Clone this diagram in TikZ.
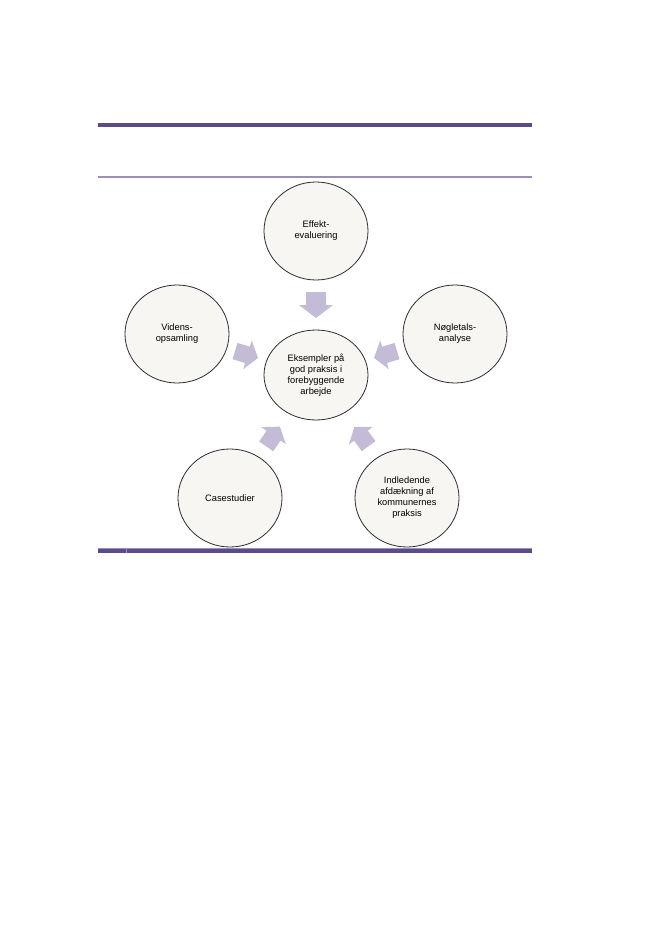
\documentclass[tikz,border=0pt]{standalone}
\usepackage{fontspec}
\setmainfont{Liberation Sans}
\usetikzlibrary{shapes.geometric}
\definecolor{darkpurple}{RGB}{91,74,140}
\definecolor{thinpurple}{RGB}{158,143,186}
\definecolor{arrowpurple}{RGB}{196,187,214}
\definecolor{circlefill}{RGB}{247,246,243}
\definecolor{circleline}{RGB}{45,45,45}
\begin{document}
\begin{tikzpicture}[x=1pt,y=-1pt,
  bubble/.style={ellipse, draw=circleline, line width=0.8pt, fill=circlefill,
    inner sep=0pt, align=center, font=\fontsize{9.3}{11}\selectfont,
    minimum width=104pt, minimum height=98pt},
  hub/.style={bubble, minimum height=90pt},
  thickrule/.style={draw=darkpurple, line width=4.5pt},
  thinrule/.style={draw=thinpurple, line width=2pt},
  bigarrow/.pic={\fill[arrowpurple] (-13,-10) -- (0,-10) -- (0,-17) -- (13,0) -- (0,17) -- (0,10) -- (-13,10) -- cycle;},
  smallarrow/.pic={\fill[arrowpurple] (-12,-8.5) -- (1,-8.5) -- (1,-15) -- (12,0) -- (1,15) -- (1,8.5) -- (-12,8.5) -- cycle;}
]
\useasboundingbox (0,0) rectangle (661,933);
\fill[white] (0,0) rectangle (661,933);

% rules
\coordinate (r1a) at (98,125);   \coordinate (r1b) at (531.5,125);
\coordinate (r2a) at (98,177);   \coordinate (r2b) at (531.5,177);
\coordinate (r3a) at (98,550.7); \coordinate (r3b) at (531.5,550.7);
\coordinate (r4a) at (98,548.8); \coordinate (r4b) at (531.5,548.8);
\coordinate (t1) at (126,548.5); \coordinate (t2) at (126,552.8);
\draw[thickrule] (r1a) -- (r1b);
\draw[thinrule] (r2a) -- (r2b);
\draw[thickrule, line width=3.8pt] (r3a) -- (r3b);
\draw[draw=thinpurple, line width=0.9pt] (r4a) -- (r4b);
\draw[draw=thinpurple, line width=0.8pt] (t1) -- (t2);

% circles
\node[bubble] (top) at (316,231) {Effekt-\\evaluering};
\node[bubble] (left) at (177,334) {Videns-\\opsamling};
\node[bubble] (right) at (455,334) {Nøgletals-\\analyse};
\node[bubble] (bl) at (230,498) {Casestudier};
\node[bubble] (br) at (407,498) {Indledende\\afdækning af\\kommunernes\\praksis};
\node[hub] (hub) at (316,375) {Eksempler på\\god praksis i\\forebyggende\\arbejde};

% converging arrows
\path (top) -- (hub) pic[pos=0.5, sloped, allow upside down] {bigarrow};
\path (left.center) -- (hub.center) pic[pos=0.5, sloped, allow upside down] {smallarrow};
\path (right.center) -- (hub.center) pic[pos=0.5, sloped, allow upside down] {smallarrow};
\path (bl.center) -- (hub.center) pic[pos=0.5, sloped, allow upside down] {smallarrow};
\path (br.center) -- (hub.center) pic[pos=0.5, sloped, allow upside down] {smallarrow};
\end{tikzpicture}
\end{document}
